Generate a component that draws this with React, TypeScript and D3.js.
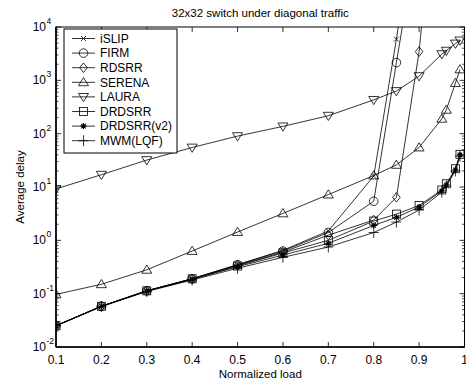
import React from "react";
import * as d3 from "d3";

const loads = [0.1, 0.2, 0.3, 0.4, 0.5, 0.6, 0.7, 0.8, 0.85, 0.9, 0.95, 0.96, 0.98, 0.99];

const iSLIP = [0.025, 0.058, 0.113, 0.19, 0.35, 0.65, 1.5, 16, 5900, 5e6, null, null, null, null];
const FIRM = [0.025, 0.058, 0.113, 0.19, 0.35, 0.63, 1.4, 5.4, 2150, 8e5, null, null, null, null];
const RDSRR = [0.025, 0.058, 0.113, 0.19, 0.34, 0.6, 1.25, 2.4, 6.4, 3450, 1e8, null, null, null];
const SERENA = [0.097, 0.15, 0.28, 0.63, 1.43, 3.2, 7.2, 16.4, 26, 55, 190, 280, 890, 1600];
const LAURA = [9.2, 17, 32, 55, 90, 137, 217, 430, 630, 1200, 3100, 3600, 4900, 5600];
const DRDSRR = [0.025, 0.058, 0.113, 0.19, 0.33, 0.58, 1.0, 2.3, 3.1, 4.5, 8.8, 11.5, 22, 41];
const DRDSRRv2 = [0.025, 0.058, 0.112, 0.185, 0.32, 0.53, 0.88, 1.9, 2.7, 4.2, 8.5, 11, 21, 40];
const MWM = [0.025, 0.057, 0.11, 0.18, 0.3, 0.48, 0.75, 1.4, 2.2, 3.7, 8, 10.5, 20, 38];

const seriesNames = ["iSLIP", "FIRM", "RDSRR", "SERENA", "LAURA", "DRDSRR", "DRDSRR(v2)", "MWM(LQF)"];
const seriesValues = [iSLIP, FIRM, RDSRR, SERENA, LAURA, DRDSRR, DRDSRRv2, MWM];
const seriesMarkers = ["x", "o", "d", "^", "v", "s", "*", "+"];

const xTicks = [0.1, 0.2, 0.3, 0.4, 0.5, 0.6, 0.7, 0.8, 0.9, 1];
const xTickLabels = ["0.1", "0.2", "0.3", "0.4", "0.5", "0.6", "0.7", "0.8", "0.9", "1"];
const yExponents = [-2, -1, 0, 1, 2, 3, 4];

const title = "32x32 switch under diagonal traffic";
const xLabel = "Normalized load";
const yLabel = "Average delay";

const W = 466, H = 381;
const L = 56, R = 464.5, T = 27, B = 347;
const FONT = "'Liberation Sans', Arial, sans-serif";

function Marker({ type, x, y }: { type: string; x: number; y: number }) {
  const s = { fill: "none", stroke: "#000", strokeWidth: 0.8 };
  switch (type) {
    case "x":
      return <path d={`M${x - 2.5},${y - 2.5}L${x + 2.5},${y + 2.5}M${x - 2.5},${y + 2.5}L${x + 2.5},${y - 2.5}`} {...s} />;
    case "o":
      return <circle cx={x} cy={y} r={4.3} {...s} />;
    case "d":
      return <path d={`M${x},${y - 4.8}L${x + 3.8},${y}L${x},${y + 4.8}L${x - 3.8},${y}Z`} {...s} />;
    case "^":
      return <path d={`M${x},${y - 4.8}L${x + 5},${y + 3.4}L${x - 5},${y + 3.4}Z`} {...s} />;
    case "v":
      return <path d={`M${x},${y + 4.8}L${x + 5},${y - 3.4}L${x - 5},${y - 3.4}Z`} {...s} />;
    case "s":
      return <rect x={x - 4} y={y - 4} width={8} height={8} {...s} />;
    case "*":
      return (
        <g>
          <path d={`M${x - 3},${y}L${x + 3},${y}M${x},${y - 3}L${x},${y + 3}M${x - 2.2},${y - 2.2}L${x + 2.2},${y + 2.2}M${x - 2.2},${y + 2.2}L${x + 2.2},${y - 2.2}`} stroke="#000" strokeWidth={1.1} fill="none" />
          <circle cx={x} cy={y} r={1.6} fill="#000" />
        </g>
      );
    case "+":
      return <path d={`M${x - 5},${y}L${x + 5},${y}M${x},${y - 5.5}L${x},${y + 5.5}`} {...s} />;
    default:
      return null;
  }
}

export default function App() {
  const x = d3.scaleLinear().domain([0.1, 1]).range([L, R]);
  const y = d3.scaleLog().domain([1e-2, 1e4]).range([B, T]);

  const line = d3
    .line<number | null>()
    .defined((d) => d != null)
    .x((_, i) => x(loads[i]))
    .y((d) => y(d as number));

  const minor: number[] = [];
  for (let e = -2; e < 4; e++) for (let k = 2; k <= 9; k++) minor.push(k * Math.pow(10, e));

  const legX = 64, legY = 29, legW = 113, legH = 124;
  const legStep = 14.6, legFirst = 38.5;

  return (
    <svg width={W} height={H} style={{ position: "absolute", left: 0, top: 0 }} fontFamily={FONT}>
      <rect x={0} y={0} width={W} height={H} fill="#fff" />
      <defs>
        <clipPath id="plotclip">
          <rect x={L} y={T} width={R - L} height={B - T} />
        </clipPath>
      </defs>

      {/* title */}
      <text x={(L + R) / 2} y={17} fontSize={11.5} textAnchor="middle">{title}</text>

      {/* data */}
      <g clipPath="url(#plotclip)">
        {seriesValues.map((vals, si) => (
          <path key={"l" + si} d={line(vals) || ""} fill="none" stroke="#000" strokeWidth={0.8} />
        ))}
        {seriesValues.map((vals, si) =>
          vals.map((v, i) =>
            v == null || v > 1e4 ? null : (
              <Marker key={`m${si}-${i}`} type={seriesMarkers[si]} x={x(loads[i])} y={y(v)} />
            )
          )
        )}
      </g>

      {/* frame */}
      <rect x={L} y={T} width={R - L} height={B - T} fill="none" stroke="#000" strokeWidth={1} />
      <line x1={L} x2={R} y1={B} y2={B} stroke="#000" strokeWidth={1.6} />
      <line x1={L} x2={L} y1={T} y2={B} stroke="#000" strokeWidth={1.6} />

      {/* x ticks */}
      {xTicks.map((t, i) => (
        <g key={"xt" + i}>
          <line x1={x(t)} x2={x(t)} y1={B} y2={B - 5} stroke="#000" strokeWidth={0.8} />
          <line x1={x(t)} x2={x(t)} y1={T} y2={T + 5} stroke="#000" strokeWidth={0.8} />
          <text x={x(t)} y={B + 17} fontSize={12} textAnchor="middle">{xTickLabels[i]}</text>
        </g>
      ))}

      {/* y ticks */}
      {yExponents.map((e) => {
        const yy = y(Math.pow(10, e));
        return (
          <g key={"yt" + e}>
            <line x1={L} x2={L + 5} y1={yy} y2={yy} stroke="#000" strokeWidth={0.8} />
            <line x1={R} x2={R - 5} y1={yy} y2={yy} stroke="#000" strokeWidth={0.8} />
            <text x={46} y={yy + 4} fontSize={12} textAnchor="end">10</text>
            <text x={46.5} y={yy - 3} fontSize={8.5} textAnchor="start">{e}</text>
          </g>
        );
      })}
      {minor.map((m, i) => (
        <g key={"mn" + i}>
          <line x1={L} x2={L + 2.5} y1={y(m)} y2={y(m)} stroke="#000" strokeWidth={0.7} />
          <line x1={R} x2={R - 2.5} y1={y(m)} y2={y(m)} stroke="#000" strokeWidth={0.7} />
        </g>
      ))}

      {/* axis labels */}
      <text x={(L + R) / 2} y={378} fontSize={11.5} textAnchor="middle">{xLabel}</text>
      <text transform={`translate(24,${(T + B) / 2}) rotate(-90)`} fontSize={11.5} textAnchor="middle">{yLabel}</text>

      {/* legend */}
      <rect x={legX} y={legY} width={legW} height={legH} fill="#fff" stroke="#000" strokeWidth={1} />
      {seriesNames.map((n, i) => {
        const yy = legFirst + i * legStep;
        return (
          <g key={"lg" + i}>
            <line x1={72} x2={95} y1={yy} y2={yy} stroke="#000" strokeWidth={0.8} />
            <Marker type={seriesMarkers[i]} x={83.5} y={yy} />
            <text x={100} y={yy + 4.2} fontSize={12}>{n}</text>
          </g>
        );
      })}
    </svg>
  );
}
